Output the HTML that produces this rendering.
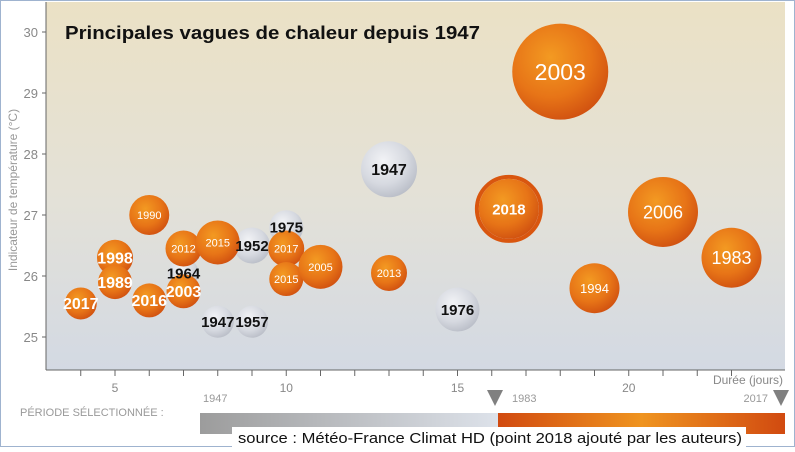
<!DOCTYPE html>
<html><head><meta charset="utf-8"><style>
body{margin:0;width:795px;height:447px;overflow:hidden;background:#fff;font-family:"Liberation Sans",sans-serif}
</style></head><body>
<svg width="795" height="447" xmlns="http://www.w3.org/2000/svg">
<defs>
<linearGradient id="bg" x1="0" y1="0" x2="0" y2="1"><stop offset="0" stop-color="#ebe1c5"/><stop offset="0.55" stop-color="#e3e1d8"/><stop offset="1" stop-color="#d3d9e3"/></linearGradient>
<radialGradient id="org" cx="0.4" cy="0.35" r="0.7"><stop offset="0" stop-color="#f39a22"/><stop offset="0.6" stop-color="#e77417"/><stop offset="1" stop-color="#cf4f10"/></radialGradient>
<radialGradient id="gry" cx="0.4" cy="0.35" r="0.7"><stop offset="0" stop-color="#f2f3f6"/><stop offset="0.6" stop-color="#d6d9e0"/><stop offset="1" stop-color="#b8bcc6"/></radialGradient>
<linearGradient id="pg" x1="0" x2="1"><stop offset="0" stop-color="#9c9c9c"/><stop offset="1" stop-color="#dde2ea"/></linearGradient>
<linearGradient id="po" x1="0" x2="1"><stop offset="0" stop-color="#d14a10"/><stop offset="0.5" stop-color="#ef9420"/><stop offset="1" stop-color="#d14a10"/></linearGradient>
</defs>
<rect x="0.5" y="0.5" width="794" height="446" fill="none" stroke="#9fb3cf"/>
<rect x="46" y="2" width="739" height="368" fill="url(#bg)"/>
<line x1="46" y1="2" x2="46" y2="370" stroke="#666"/>
<line x1="46" y1="370" x2="785" y2="370" stroke="#666"/>
<g id="axes"></g>
<g id="bubbles"></g>
<g id="labels"></g>
<text x="65" y="39" font-size="18" font-weight="bold" fill="#111" textLength="415" lengthAdjust="spacingAndGlyphs">Principales vagues de chaleur depuis 1947</text>
<text transform="translate(17,190) rotate(-90)" text-anchor="middle" font-size="12" fill="#999">Indicateur de température (°C)</text>
<text x="783" y="384" text-anchor="end" font-size="12" fill="#888">Durée (jours)</text>
<text x="20" y="416" font-size="11" fill="#999">PÉRIODE SÉLECTIONNÉE :</text>
<rect x="200" y="413" width="298" height="21" fill="url(#pg)"/>
<rect x="498" y="413" width="287" height="21" fill="url(#po)"/>
<text x="203" y="402" font-size="11" fill="#999">1947</text>
<text x="512" y="402" font-size="11" fill="#999">1983</text>
<text x="768" y="402" text-anchor="end" font-size="11" fill="#999">2017</text>
<path d="M487,390 L503,390 L495,406 Z" fill="#808080"/>
<path d="M773,390 L789,390 L781,406 Z" fill="#808080"/>
<rect x="232" y="427" width="514" height="20" fill="#fff"/>
<text x="238" y="443" font-size="15" fill="#111" textLength="504" lengthAdjust="spacingAndGlyphs">source : Météo-France Climat HD (point 2018 ajouté par les auteurs)</text>
</svg>
<script>
const durations=[13,4,5,5,6,6,7,7,7,8,8,9,9,10,10,10,11,13,15,16.5,18,19,21,23];
const temps=[27.75,25.55,26.3,25.9,27.0,25.6,26.05,26.45,25.75,26.55,25.25,26.5,25.25,26.8,26.45,25.95,26.15,26.05,25.45,27.1,29.35,25.8,27.05,26.3];
const sizes=[28,16,18,17,20,17,15,18,17,22,16,18,16,17,18,17,22,18,22,30,48,25,35,30];
const years=["1947","2017","1998","1989","1990","2016","1964","2012","2003","2015","1947","1952","1957","1975","2017","2015","2005","2013","1976","2018","2003","1994","2006","1983"];
const recent=[0,1,1,1,1,1,0,1,1,1,0,0,0,0,1,1,1,1,0,1,1,1,1,1];
const xTicks=[5,10,15,20];
const yTicks=[25,26,27,28,29,30];
const xs=d=>115+(d-5)*34.25;
const ys=t=>337-(t-25)*61;
const NS="http://www.w3.org/2000/svg";
const ax=document.getElementById('axes');
function mk(tag,p,a){const e=document.createElementNS(NS,tag);for(const k in a)e.setAttribute(k,a[k]);p.appendChild(e);return e;}
for(let d=4;d<=23;d++){const t=mk('line',ax,{x1:xs(d),x2:xs(d),y1:370,y2:376,stroke:'#666'});

}
xTicks.forEach(v=>{const t=mk('text',ax,{x:xs(v),y:392,'text-anchor':'middle','font-size':12,fill:'#888'});t.textContent=v;

});
yTicks.forEach(v=>{const t=mk('text',ax,{x:38,y:ys(v)+5,'text-anchor':'end','font-size':13,fill:'#888'});t.textContent=v;


const l=mk('line',ax,{x1:42,x2:46,y1:ys(v),y2:ys(v),stroke:'#666'});

});
const bg=document.getElementById('bubbles');
const lg=document.getElementById('labels');
const order=durations.map((_,i)=>i).sort((a,b)=>recent[a]-recent[b]);
order.forEach(i=>{
 const cx=xs(durations[i]),cy=ys(temps[i]),r=sizes[i];
 const g=mk('g',bg,{});
 
 
 if(years[i]==='2018')mk('circle',g,{cx:cx,cy:cy,r:r+2,fill:'none',stroke:'#d9560f','stroke-width':4});
 mk('circle',g,{cx:cx,cy:cy,r:r,fill:recent[i]?'url(#org)':'url(#gry)'});
});
order.forEach(i=>{
 const cx=xs(durations[i]),cy=ys(temps[i]),r=sizes[i];
 let fs,bold;
 if(!recent[i]){fs=r>=25?16:15;bold=true;}
 else if(r>=40){fs=23;bold=false;}
 else if(r>=30&&years[i]!=='2018'){fs=18;bold=false;}
 else if(years[i]==='2018'){fs=15;bold=true;}
 else if(r<=18&&['2017','1998','1989','2016','2003'].includes(years[i])&&durations[i]<8){fs=16;bold=true;}
 else {fs=r>=24?13:11;bold=false;}
 const t=mk('text',lg,{x:cx,y:cy+fs*0.36,'text-anchor':'middle','font-size':fs,'font-weight':bold?'bold':'normal',fill:recent[i]?'#fff':'#111'});
 
 
 t.textContent=years[i];
});
</script>
</body></html>
